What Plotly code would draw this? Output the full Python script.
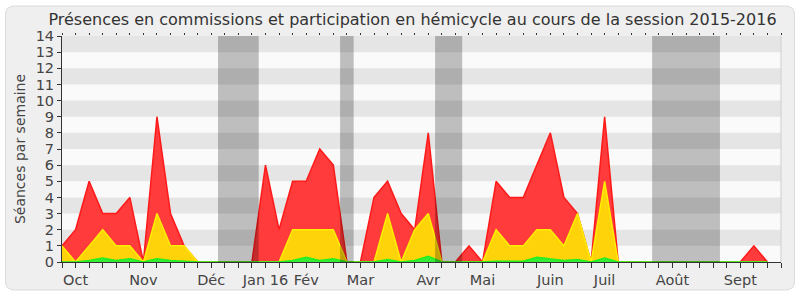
import plotly.graph_objects as go

# ---- data (weekly, session 2015-2016) ----
weeks = list(range(53))
presence = [1, 2, 5, 3, 3, 4, 0, 9, 3, 1, 0, 0, 0, 0, 0, 6, 2, 5, 5, 7, 6, 0, 0, 4, 5, 3, 2, 8, 0, 0,
            1, 0, 5, 4, 4, 6, 8, 4, 3, 0, 9, 0, 0, 0, 0, 0, 0, 0, 0, 0, 0, 1, 0]
commission = [1, 0, 1, 2, 1, 1, 0, 3, 1, 1, 0, 0, 0, 0, 0, 0, 0, 2, 2, 2, 2, 0, 0, 0, 3, 0, 2, 3, 0, 0,
              0, 0, 2, 1, 1, 2, 2, 1, 3, 0, 5, 0, 0, 0, 0, 0, 0, 0, 0, 0, 0, 0, 0]
hemicycle = [0, 0, 0.1, 0.25, 0.1, 0.2, 0, 0.2, 0.1, 0.05, 0, 0, 0, 0, 0, 0, 0, 0.1, 0.3, 0.1, 0.2, 0, 0, 0,
             0.15, 0, 0.1, 0.35, 0, 0, 0, 0, 0.05, 0.05, 0.05, 0.3, 0.2, 0.1, 0.15, 0, 0.25, 0, 0, 0, 0,
             0, 0, 0, 0, 0, 0, 0, 0]
month_pos = [1, 6, 11, 15, 18, 22, 27, 31, 36, 40, 45, 50]
month_labels = ["Oct", "Nov", "Déc", "Jan 16", "Fév", "Mar", "Avr", "Mai", "Juin", "Juil", "Août", "Sept"]
holidays = [(11.5, 14.5), (20.5, 21.5), (27.5, 29.5), (43.5, 48.5)]
y_ticks = list(range(15))

W, H = 800, 300
L, R, T, B = 62, 19, 36, 34
PW, PH = W - L - R, H - T - B


def px_x(p):
    return (p - L) / PW


def px_y(p):
    return (H - B - p) / PH


fig = go.Figure()

fig.add_trace(go.Scatter(x=weeks, y=presence, mode="lines", fill="tozeroy",
                         line=dict(color="#ff1a1a", width=1.5), fillcolor="#ff3b3b",
                         hoverinfo="skip", showlegend=False))
fig.add_trace(go.Scatter(x=weeks, y=commission, mode="lines", fill="tozeroy",
                         line=dict(color="#ffee00", width=1.5), fillcolor="#ffd30a",
                         hoverinfo="skip", showlegend=False))
fig.add_trace(go.Scatter(x=weeks, y=hemicycle, mode="lines", fill="tozeroy",
                         line=dict(color="#22ee22", width=1.5), fillcolor="#33ee33",
                         hoverinfo="skip", showlegend=False))
# helper trace for the top dotted ticks axis
fig.add_trace(go.Scatter(x=[0], y=[0], xaxis="x2", mode="markers", marker=dict(opacity=0),
                         hoverinfo="skip", showlegend=False))

shapes = []
# rounded frame
x0, y0, x1, y1, r = 5.5, 5.5, 794.5, 294.5, 9
path = (f"M {px_x(x0 + r)} {px_y(y0)} L {px_x(x1 - r)} {px_y(y0)} "
        f"Q {px_x(x1)} {px_y(y0)} {px_x(x1)} {px_y(y0 + r)} "
        f"L {px_x(x1)} {px_y(y1 - r)} Q {px_x(x1)} {px_y(y1)} {px_x(x1 - r)} {px_y(y1)} "
        f"L {px_x(x0 + r)} {px_y(y1)} Q {px_x(x0)} {px_y(y1)} {px_x(x0)} {px_y(y1 - r)} "
        f"L {px_x(x0)} {px_y(y0 + r)} Q {px_x(x0)} {px_y(y0)} {px_x(x0 + r)} {px_y(y0)} Z")
shapes.append(dict(type="path", path=path, xref="paper", yref="paper", layer="below",
                   fillcolor="#efefef", line=dict(color="#dadada", width=1)))
# plot background + stripes
shapes.append(dict(type="rect", xref="paper", yref="y", x0=0, x1=1, y0=0, y1=14,
                   fillcolor="#fafafa", line=dict(width=0), layer="below"))
for k in range(7):
    shapes.append(dict(type="rect", xref="paper", yref="y", x0=0, x1=1, y0=2 * k + 1, y1=2 * k + 2,
                       fillcolor="#e5e5e5", line=dict(width=0), layer="below"))
# holidays
for a, b in holidays:
    shapes.append(dict(type="rect", xref="x", yref="y", x0=a, x1=b, y0=0, y1=14,
                       fillcolor="rgba(0,0,0,0.24)", line=dict(width=0), layer="above"))
# right border line
shapes.append(dict(type="line", xref="paper", yref="paper", x0=1, x1=1, y0=0, y1=1,
                   line=dict(color="#cfcfcf", width=1)))

fig.update_layout(
    width=W, height=H,
    margin=dict(l=L, r=R, t=T, b=B, pad=0),
    paper_bgcolor="#ffffff",
    plot_bgcolor="rgba(0,0,0,0)",
    font=dict(family="DejaVu Sans", color="#333333"),
    title=dict(text="Présences en commissions et participation en hémicycle au cours de la session 2015-2016",
               xref="container", x=0.5156, xanchor="center", yref="container", y=0.935, yanchor="middle",
               font=dict(size=16, color="#333333")),
    shapes=shapes,
    xaxis=dict(range=[0, 53], tickmode="array", tickvals=month_pos, ticktext=month_labels,
               ticks="outside", ticklen=5, tickcolor="#333333", tickwidth=1,
               minor=dict(tickmode="array", tickvals=weeks + [53], ticks="outside", ticklen=5,
                          tickcolor="#333333", showgrid=False),
               showgrid=False, zeroline=False, showline=True, linecolor="#333333", linewidth=1,
               tickfont=dict(size=14.5, color="#444444"), fixedrange=True),
    xaxis2=dict(range=[0, 53], overlaying="x", side="top", tickmode="array", tickvals=weeks + [53],
                ticks="outside", ticklen=2, tickcolor="#333333", showticklabels=False,
                showgrid=False, zeroline=False, showline=False, fixedrange=True),
    yaxis=dict(range=[0, 14], tickmode="array", tickvals=y_ticks, ticks="outside", ticklen=4,
               tickcolor="#333333", showgrid=False, zeroline=False, showline=True,
               linecolor="#333333", linewidth=1, tickfont=dict(size=14.5, color="#444444"),
               title=dict(text="Séances par semaine", font=dict(size=14, color="#444444"), standoff=6),
               fixedrange=True),
)

fig.write_html("out.html")
